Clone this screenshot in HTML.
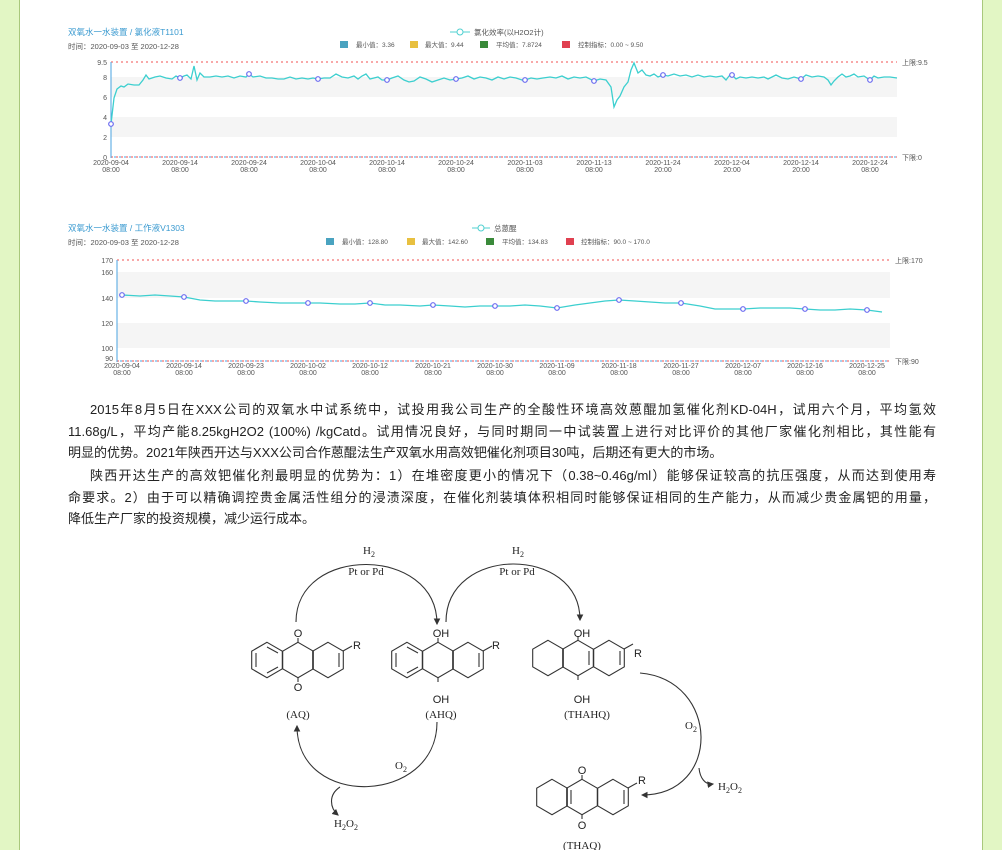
<!DOCTYPE html>
<html><head><meta charset="utf-8"><style>
body{margin:0;width:1002px;height:850px;background:#fff;position:relative;overflow:hidden;font-family:"Liberation Sans","Noto Sans CJK SC",sans-serif}
.gl{position:absolute;top:0;left:0;width:19px;height:850px;background:#e2f6c4;border-right:1px solid #a9c87c}
.gr{position:absolute;top:0;right:0;width:19px;height:850px;background:#e2f6c4;border-left:1px solid #a9c87c}
svg{position:absolute;left:0;top:0}
.p{position:absolute;left:68px;width:868px;font-size:13px;line-height:21.5px;color:#222;font-family:"Liberation Sans","Noto Sans CJK SC",sans-serif}
.p div{white-space:nowrap;text-align:justify;text-align-last:justify}
.p div.last{text-align-last:left}
.p div.ind{padding-left:22px}
</style></head><body>
<div class="gl"></div><div class="gr"></div>
<svg width="1002" height="850" font-family="Liberation Sans, Noto Sans CJK SC, sans-serif">
<!-- Chart 1 -->
<text x="68" y="35" font-size="8.5" fill="#3a9ad0">双氧水一水装置 / 氯化液T1101</text>
<text x="68" y="49" font-size="7.5" fill="#555">时间：2020-09-03 至 2020-12-28</text>
<line x1="450" y1="32" x2="470" y2="32" stroke="#4fd0d0"/><circle cx="460" cy="32" r="3" fill="#fff" stroke="#4fd0d0"/>
<text x="474" y="35" font-size="7.5" fill="#555">氯化效率(以H2O2计)</text>
<g font-size="6.5" fill="#555">
<rect x="340" y="41" width="8" height="7" fill="#4aa3c0"/><text x="356" y="47">最小值：3.36</text>
<rect x="410" y="41" width="8" height="7" fill="#e8c040"/><text x="425" y="47">最大值：9.44</text>
<rect x="480" y="41" width="8" height="7" fill="#3a8a3a"/><text x="496" y="47">平均值：7.8724</text>
<rect x="562" y="41" width="8" height="7" fill="#e04050"/><text x="578" y="47">控制指标：0.00 ~ 9.50</text>
</g>
<rect x="111" y="77" width="786" height="20" fill="#f5f5f5"/>
<rect x="111" y="117" width="786" height="20" fill="#f5f5f5"/>
<line x1="111" y1="62" x2="897" y2="62" stroke="#f05050" stroke-dasharray="2,3"/>
<line x1="111" y1="157" x2="897" y2="157" stroke="#f05050" stroke-dasharray="2,3"/>
<line x1="111" y1="157" x2="897" y2="157" stroke="#4aa3e0" stroke-dasharray="2,3" stroke-dashoffset="2"/>
<line x1="111" y1="62" x2="111" y2="158" stroke="#4aa3e0"/>
<g font-size="7" fill="#555" text-anchor="end"><text x="107" y="65">9.5</text><text x="107" y="80">8</text><text x="107" y="100">6</text><text x="107" y="120">4</text><text x="107" y="140">2</text><text x="107" y="160">0</text></g>
<text x="902" y="65" font-size="7" fill="#555">上限:9.5</text><text x="902" y="160" font-size="7" fill="#555">下限:0</text>
<g font-size="7" fill="#555" text-anchor="middle">
<text x="111" y="165">2020-09-04</text><text x="111" y="172">08:00</text>
<text x="180" y="165">2020-09-14</text><text x="180" y="172">08:00</text>
<text x="249" y="165">2020-09-24</text><text x="249" y="172">08:00</text>
<text x="318" y="165">2020-10-04</text><text x="318" y="172">08:00</text>
<text x="387" y="165">2020-10-14</text><text x="387" y="172">08:00</text>
<text x="456" y="165">2020-10-24</text><text x="456" y="172">08:00</text>
<text x="525" y="165">2020-11-03</text><text x="525" y="172">08:00</text>
<text x="594" y="165">2020-11-13</text><text x="594" y="172">08:00</text>
<text x="663" y="165">2020-11-24</text><text x="663" y="172">20:00</text>
<text x="732" y="165">2020-12-04</text><text x="732" y="172">20:00</text>
<text x="801" y="165">2020-12-14</text><text x="801" y="172">20:00</text>
<text x="870" y="165">2020-12-24</text><text x="870" y="172">08:00</text>
</g>
<polyline fill="none" stroke="#3ccfcf" stroke-width="1.3" points="111,124 114,98 117,89 121,86 124,87 128,84 134,85 139,85 143,80 146,75 149,79 155,77 160,76 166,78 172,79 176,76 180,78 184,76 187,75 191,79 194,66 197,80 200,73 204,77 210,77 216,76 222,77 228,76 234,78 240,76 246,77 249,74 253,77 260,76 266,78 272,78 278,79 284,79 290,77 296,79 302,78 308,79 313,78 318,79 324,78 330,78 336,74 342,77 348,78 354,76 358,79 362,76 366,74 370,79 374,78 378,77 382,80 387,80 392,78 398,76 404,80 409,82 414,81 420,77 426,79 432,82 438,80 444,78 450,80 456,79 462,78 468,76 474,79 480,77 486,78 492,80 498,77 504,79 510,77 516,78 522,80 525,80 531,78 537,79 543,78 550,77 556,78 562,76 568,79 574,77 580,78 586,77 594,81 600,79 606,80 611,87 614,107 617,100 620,96 624,87 628,82 631,70 634,63 638,73 642,70 646,75 650,76 654,74 658,77 663,75 668,76 674,74 680,76 686,75 692,77 698,75 704,77 710,76 716,77 722,76 726,80 729,76 732,75 736,79 740,77 746,78 752,77 758,78 764,77 768,79 772,77 776,75 782,78 788,79 794,77 801,79 806,75 812,77 818,76 824,77 828,80 831,85 834,81 838,77 842,74 846,77 850,76 854,74 858,77 864,76 870,80 874,76 878,78 884,77 890,77 897,78"/>
<g fill="#fff" stroke="#6a6af0" stroke-width="1.2">
<circle cx="111" cy="124" r="2.3"/><circle cx="180" cy="78" r="2.3"/><circle cx="249" cy="74" r="2.3"/><circle cx="318" cy="79" r="2.3"/><circle cx="387" cy="80" r="2.3"/><circle cx="456" cy="79" r="2.3"/><circle cx="525" cy="80" r="2.3"/><circle cx="594" cy="81" r="2.3"/><circle cx="663" cy="75" r="2.3"/><circle cx="732" cy="75" r="2.3"/><circle cx="801" cy="79" r="2.3"/><circle cx="870" cy="80" r="2.3"/></g>

<!-- Chart 2 -->
<text x="68" y="231" font-size="8.5" fill="#3a9ad0">双氧水一水装置 / 工作液V1303</text>
<text x="68" y="245" font-size="7.5" fill="#555">时间：2020-09-03 至 2020-12-28</text>
<line x1="472" y1="228" x2="490" y2="228" stroke="#4fd0d0"/><circle cx="481" cy="228" r="3" fill="#fff" stroke="#4fd0d0"/>
<text x="494" y="231" font-size="7.5" fill="#555">总蒽醌</text>
<g font-size="6.5" fill="#555">
<rect x="326" y="238" width="8" height="7" fill="#4aa3c0"/><text x="342" y="244">最小值：128.80</text>
<rect x="407" y="238" width="8" height="7" fill="#e8c040"/><text x="422" y="244">最大值：142.60</text>
<rect x="486" y="238" width="8" height="7" fill="#3a8a3a"/><text x="502" y="244">平均值：134.83</text>
<rect x="566" y="238" width="8" height="7" fill="#e04050"/><text x="581" y="244">控制指标：90.0 ~ 170.0</text>
</g>
<rect x="117" y="272" width="773" height="26" fill="#f5f5f5"/>
<rect x="117" y="323" width="773" height="25" fill="#f5f5f5"/>
<line x1="117" y1="260" x2="890" y2="260" stroke="#f05050" stroke-dasharray="2,3"/>
<line x1="117" y1="361" x2="890" y2="361" stroke="#f05050" stroke-dasharray="2,3"/>
<line x1="117" y1="361" x2="890" y2="361" stroke="#4aa3e0" stroke-dasharray="2,3" stroke-dashoffset="2"/>
<line x1="117" y1="260" x2="117" y2="362" stroke="#4aa3e0"/>
<g font-size="7" fill="#555" text-anchor="end"><text x="113" y="263">170</text><text x="113" y="275">160</text><text x="113" y="301">140</text><text x="113" y="326">120</text><text x="113" y="351">100</text><text x="113" y="361">90</text></g>
<text x="895" y="263" font-size="7" fill="#555">上限:170</text><text x="895" y="364" font-size="7" fill="#555">下限:90</text>
<g font-size="7" fill="#555" text-anchor="middle">
<text x="122" y="368">2020-09-04</text><text x="122" y="375">08:00</text>
<text x="184" y="368">2020-09-14</text><text x="184" y="375">08:00</text>
<text x="246" y="368">2020-09-23</text><text x="246" y="375">08:00</text>
<text x="308" y="368">2020-10-02</text><text x="308" y="375">08:00</text>
<text x="370" y="368">2020-10-12</text><text x="370" y="375">08:00</text>
<text x="433" y="368">2020-10-21</text><text x="433" y="375">08:00</text>
<text x="495" y="368">2020-10-30</text><text x="495" y="375">08:00</text>
<text x="557" y="368">2020-11-09</text><text x="557" y="375">08:00</text>
<text x="619" y="368">2020-11-18</text><text x="619" y="375">08:00</text>
<text x="681" y="368">2020-11-27</text><text x="681" y="375">08:00</text>
<text x="743" y="368">2020-12-07</text><text x="743" y="375">08:00</text>
<text x="805" y="368">2020-12-16</text><text x="805" y="375">08:00</text>
<text x="867" y="368">2020-12-25</text><text x="867" y="375">08:00</text>
</g>
<polyline fill="none" stroke="#3ccfcf" stroke-width="1.3" points="122,295 140,296 155,295 170,296 184,297 200,300 215,301 230,301 246,301 260,302 280,303 308,303 320,303 340,304 355,304 370,303 385,305 400,305 420,306 433,305 450,306 465,307 480,306 495,306 510,306 525,305 540,306 557,308 575,305 590,303 605,301 619,300 635,301 650,302 665,303 681,303 700,306 715,309 730,309 743,309 760,308 775,308 790,308 805,309 820,310 835,310 850,309 867,310 882,312"/>
<g fill="#fff" stroke="#6a6af0" stroke-width="1.2">
<circle cx="122" cy="295" r="2.3"/><circle cx="184" cy="297" r="2.3"/><circle cx="246" cy="301" r="2.3"/><circle cx="308" cy="303" r="2.3"/><circle cx="370" cy="303" r="2.3"/><circle cx="433" cy="305" r="2.3"/><circle cx="495" cy="306" r="2.3"/><circle cx="557" cy="308" r="2.3"/><circle cx="619" cy="300" r="2.3"/><circle cx="681" cy="303" r="2.3"/><circle cx="743" cy="309" r="2.3"/><circle cx="805" cy="309" r="2.3"/><circle cx="867" cy="310" r="2.3"/></g>

<!-- Chemistry -->
<defs>
<path id="hx" d="M0,-17.7 L15.3,-8.85 L15.3,8.85 L0,17.7 L-15.3,8.85 L-15.3,-8.85Z" fill="none" stroke="#333" stroke-width="1.1"/>
<marker id="ar" markerWidth="6" markerHeight="6" refX="5" refY="3" orient="auto"><path d="M0,0 L6,3 L0,6Z" fill="#333"/></marker>
</defs>
<g stroke="#333" stroke-width="1.1" fill="none">
<use href="#hx" x="267" y="660"/><use href="#hx" x="298" y="660"/><use href="#hx" x="328" y="660"/>
<line x1="298" y1="642" x2="298" y2="638"/><line x1="298" y1="678" x2="298" y2="682"/><line x1="343" y1="651" x2="352" y2="646"/>
<path d="M256,653 L256,667 M267,647 L278,653 M267,673 L278,667 M339,653 L339,667"/>
<use href="#hx" x="407" y="660"/><use href="#hx" x="438" y="660"/><use href="#hx" x="468" y="660"/>
<line x1="438" y1="642" x2="438" y2="638"/><line x1="438" y1="678" x2="438" y2="682"/><line x1="483" y1="651" x2="492" y2="646"/>
<path d="M396,653 L396,667 M407,647 L418,653 M407,673 L418,667 M479,653 L479,667"/>
<use href="#hx" x="548" y="658"/><use href="#hx" x="578" y="658"/><use href="#hx" x="609" y="658"/>
<line x1="578" y1="640" x2="578" y2="636"/><line x1="578" y1="676" x2="578" y2="680"/><line x1="624" y1="649" x2="633" y2="644"/>
<path d="M589,651 L589,665 M620,651 L620,665"/>
<use href="#hx" x="552" y="797"/><use href="#hx" x="582" y="797"/><use href="#hx" x="613" y="797"/>
<line x1="582" y1="779" x2="582" y2="775"/><line x1="582" y1="815" x2="582" y2="819"/><line x1="628" y1="788" x2="637" y2="783"/>
<path d="M571,790 L571,804 M624,790 L624,804"/>
<path d="M296,622 C296,545 437,545 437,624" marker-end="url(#ar)"/>
<path d="M446,622 C446,545 580,545 580,620" marker-end="url(#ar)"/>
<path d="M437,722 C437,805 297,810 297,726" marker-end="url(#ar)"/>
<path d="M340,787 C328,795 330,808 338,815" marker-end="url(#ar)"/>
<path d="M640,673 C720,680 722,795 642,795" marker-end="url(#ar)"/>
<path d="M699,768 C700,778 705,785 713,784" marker-end="url(#ar)"/>
</g>
<g font-size="11" fill="#222" text-anchor="middle">
<text x="298" y="637">O</text><text x="298" y="691">O</text><text x="357" y="649">R</text><text x="298" y="718" font-family="Liberation Serif, serif">(AQ)</text>
<text x="441" y="637">OH</text><text x="441" y="703">OH</text><text x="496" y="649">R</text><text x="441" y="718" font-family="Liberation Serif, serif">(AHQ)</text>
<text x="582" y="637">OH</text><text x="582" y="703">OH</text><text x="638" y="657">R</text><text x="587" y="718" font-family="Liberation Serif, serif">(THAHQ)</text>
<text x="582" y="774">O</text><text x="582" y="829">O</text><text x="642" y="784">R</text><text x="582" y="849" font-family="Liberation Serif, serif">(THAQ)</text>
</g>
<g font-size="11" fill="#222" text-anchor="middle" font-family="Liberation Serif, serif">
<text x="369" y="554">H<tspan font-size="8" dy="3">2</tspan></text><text x="366" y="575">Pt or Pd</text>
<text x="518" y="554">H<tspan font-size="8" dy="3">2</tspan></text><text x="517" y="575">Pt or Pd</text>
<text x="401" y="769">O<tspan font-size="8" dy="3">2</tspan></text>
<text x="346" y="827">H<tspan font-size="8" dy="3">2</tspan><tspan dy="-3">O</tspan><tspan font-size="8" dy="3">2</tspan></text>
<text x="691" y="729">O<tspan font-size="8" dy="3">2</tspan></text>
<text x="730" y="790">H<tspan font-size="8" dy="3">2</tspan><tspan dy="-3">O</tspan><tspan font-size="8" dy="3">2</tspan></text>
</g>
</svg>
<div class="p" style="top:399px">
<div class="ind">2015年8月5日在XXX公司的双氧水中试系统中，试投用我公司生产的全酸性环境高效蒽醌加氢催化剂KD-04H，试用六个月，平均氢效</div>
<div>11.68g/L，平均产能8.25kgH2O2 (100%) /kgCatd。试用情况良好，与同时期同一中试装置上进行对比评价的其他厂家催化剂相比，其性能有</div>
<div class="last">明显的优势。2021年陕西开达与XXX公司合作蒽醌法生产双氧水用高效钯催化剂项目30吨，后期还有更大的市场。</div>
</div>
<div class="p" style="top:465px">
<div class="ind">陕西开达生产的高效钯催化剂最明显的优势为：1）在堆密度更小的情况下（0.38~0.46g/ml）能够保证较高的抗压强度，从而达到使用寿</div>
<div>命要求。2）由于可以精确调控贵金属活性组分的浸渍深度，在催化剂装填体积相同时能够保证相同的生产能力，从而减少贵金属钯的用量，</div>
<div class="last">降低生产厂家的投资规模，减少运行成本。</div>
</div>
</body></html>
